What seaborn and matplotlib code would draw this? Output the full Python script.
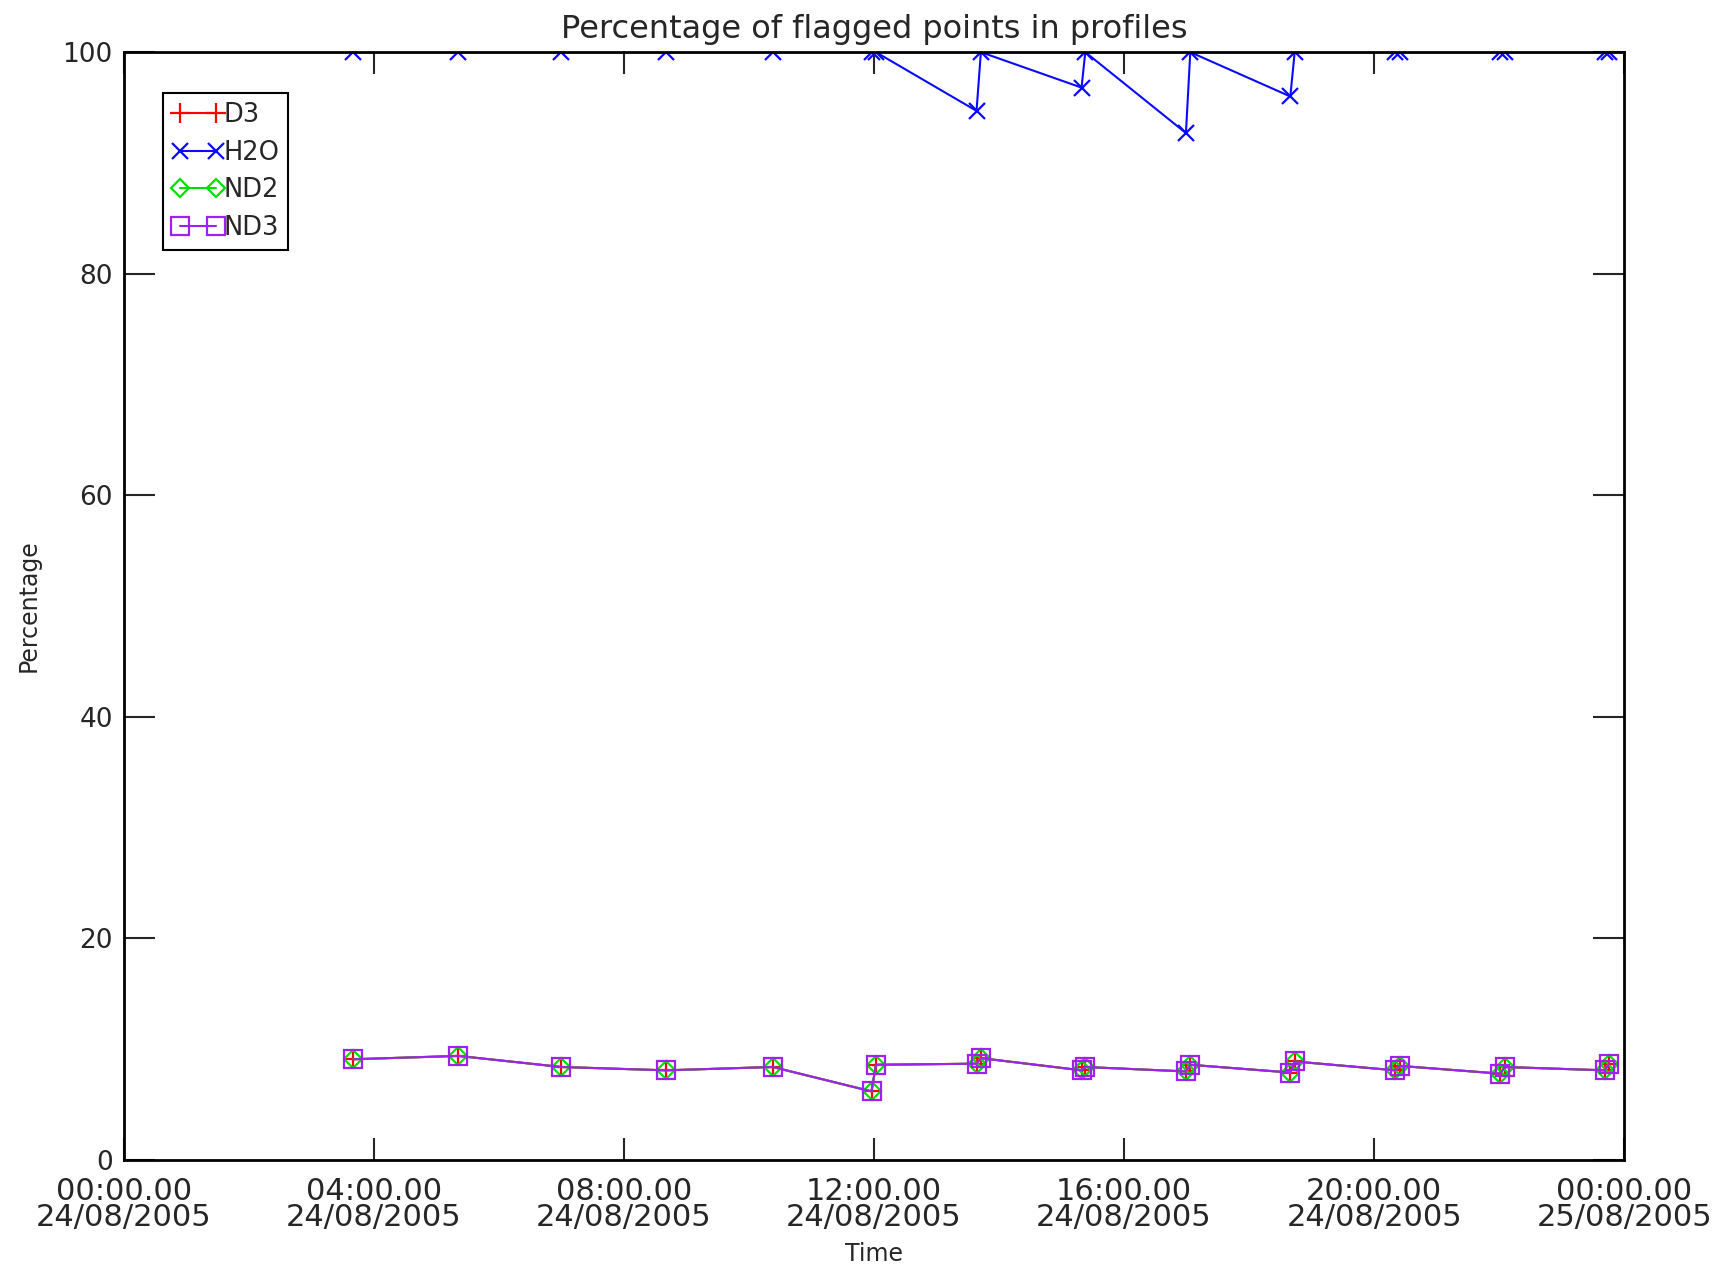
import pandas as pd
import matplotlib
matplotlib.use('Agg')
import matplotlib.pyplot as plt
import matplotlib.dates as mdates
import seaborn as sns

# Profile times (hours after 00:00 on 24/08/2005)
hours = [3.67, 5.35, 7.00, 8.67, 10.38, 11.96, 12.03, 13.64, 13.71, 15.32, 15.38,
         16.99, 17.06, 18.66, 18.73, 20.34, 20.41, 22.02, 22.09, 23.69, 23.76]

# Percentage of flagged points per species
o3 = [9.1, 9.4, 8.4, 8.1, 8.4, 6.2, 8.6, 8.7, 9.2, 8.1, 8.4,
      8.0, 8.6, 7.9, 8.9, 8.1, 8.5, 7.8, 8.4, 8.1, 8.7]
h2o = [100, 100, 100, 100, 100, 100, 100, 94.7, 100, 96.8, 100,
       92.7, 100, 96.0, 100, 100, 100, 100, 100, 100, 100]
no2 = [9.1, 9.4, 8.4, 8.1, 8.4, 6.2, 8.6, 8.7, 9.2, 8.1, 8.4,
       8.0, 8.6, 7.9, 8.9, 8.1, 8.5, 7.8, 8.4, 8.1, 8.7]
no3 = [9.1, 9.4, 8.4, 8.1, 8.4, 6.2, 8.6, 8.7, 9.2, 8.1, 8.4,
       8.0, 8.6, 7.9, 8.9, 8.1, 8.5, 7.8, 8.4, 8.1, 8.7]

series_names = ['D3', 'H2O', 'ND2', 'ND3']
series_values = [o3, h2o, no2, no3]

base = pd.Timestamp('2005-08-24 00:00:00')
times = base + pd.to_timedelta(hours, unit='h')

df = pd.concat([pd.DataFrame({'time': times, 'pct': vals, 'species': name})
                for name, vals in zip(series_names, series_values)], ignore_index=True)

sns.set_style('ticks')
plt.rcParams['font.family'] = ['DejaVu Sans']

fig = plt.figure(figsize=(17.21, 12.72), dpi=100)
ax = fig.add_axes([0.072, 0.088, 0.8717, 0.871])

styles = {
    'D3': dict(color='#ff0000', marker='+', markersize=14, mew=1.6),
    'H2O': dict(color='#0a0aff', marker='x', markersize=12, mew=1.6),
    'ND2': dict(color='#00e000', marker='D', markersize=9, mew=1.6, fillstyle='none'),
    'ND3': dict(color='#a020f0', marker='s', markersize=13, mew=1.6, fillstyle='none'),
}

for name in series_names:
    sub = df[df['species'] == name]
    st = styles[name]
    sns.lineplot(data=sub, x='time', y='pct', ax=ax, label=name, color=st['color'],
                 marker=st['marker'], markersize=st['markersize'], markeredgewidth=st['mew'],
                 markeredgecolor=st['color'], fillstyle=st.get('fillstyle', 'full'),
                 linewidth=1.5, sort=False, errorbar=None)

ax.set_xlim(base, base + pd.Timedelta(hours=24))
ax.set_ylim(0, 100)
ax.set_yticks([0, 20, 40, 60, 80, 100])
ax.xaxis.set_major_locator(mdates.HourLocator(byhour=[0, 4, 8, 12, 16, 20]))
ax.xaxis.set_major_formatter(mdates.DateFormatter('%H:%M.%S\n%d/%m/%Y'))

for s in ax.spines.values():
    s.set_linewidth(2)
    s.set_color('black')

ax.tick_params(axis='y', direction='in', length=22, width=1.5, labelsize=19, pad=8,
               left=True, right=True)
ax.tick_params(axis='x', direction='in', length=16, width=1.5, labelsize=22, pad=12,
               bottom=True, top=True)
for lbl in ax.get_xticklabels():
    lbl.set_linespacing(0.9)

ax.set_title('Percentage of flagged points in profiles', fontsize=23, pad=10)
ax.set_xlabel('Time', fontsize=17, labelpad=7)
ax.set_ylabel('Percentage', fontsize=17, labelpad=16)

leg = ax.legend(loc='upper left', bbox_to_anchor=(0.026, 0.963), numpoints=2,
                handlelength=2.0, handletextpad=0.0, borderpad=0.35, labelspacing=0.45,
                fontsize=18.5, fancybox=False, framealpha=1, edgecolor='black',
                borderaxespad=0)
leg.get_frame().set_linewidth(1.5)

plt.savefig('out.png', dpi=100)
